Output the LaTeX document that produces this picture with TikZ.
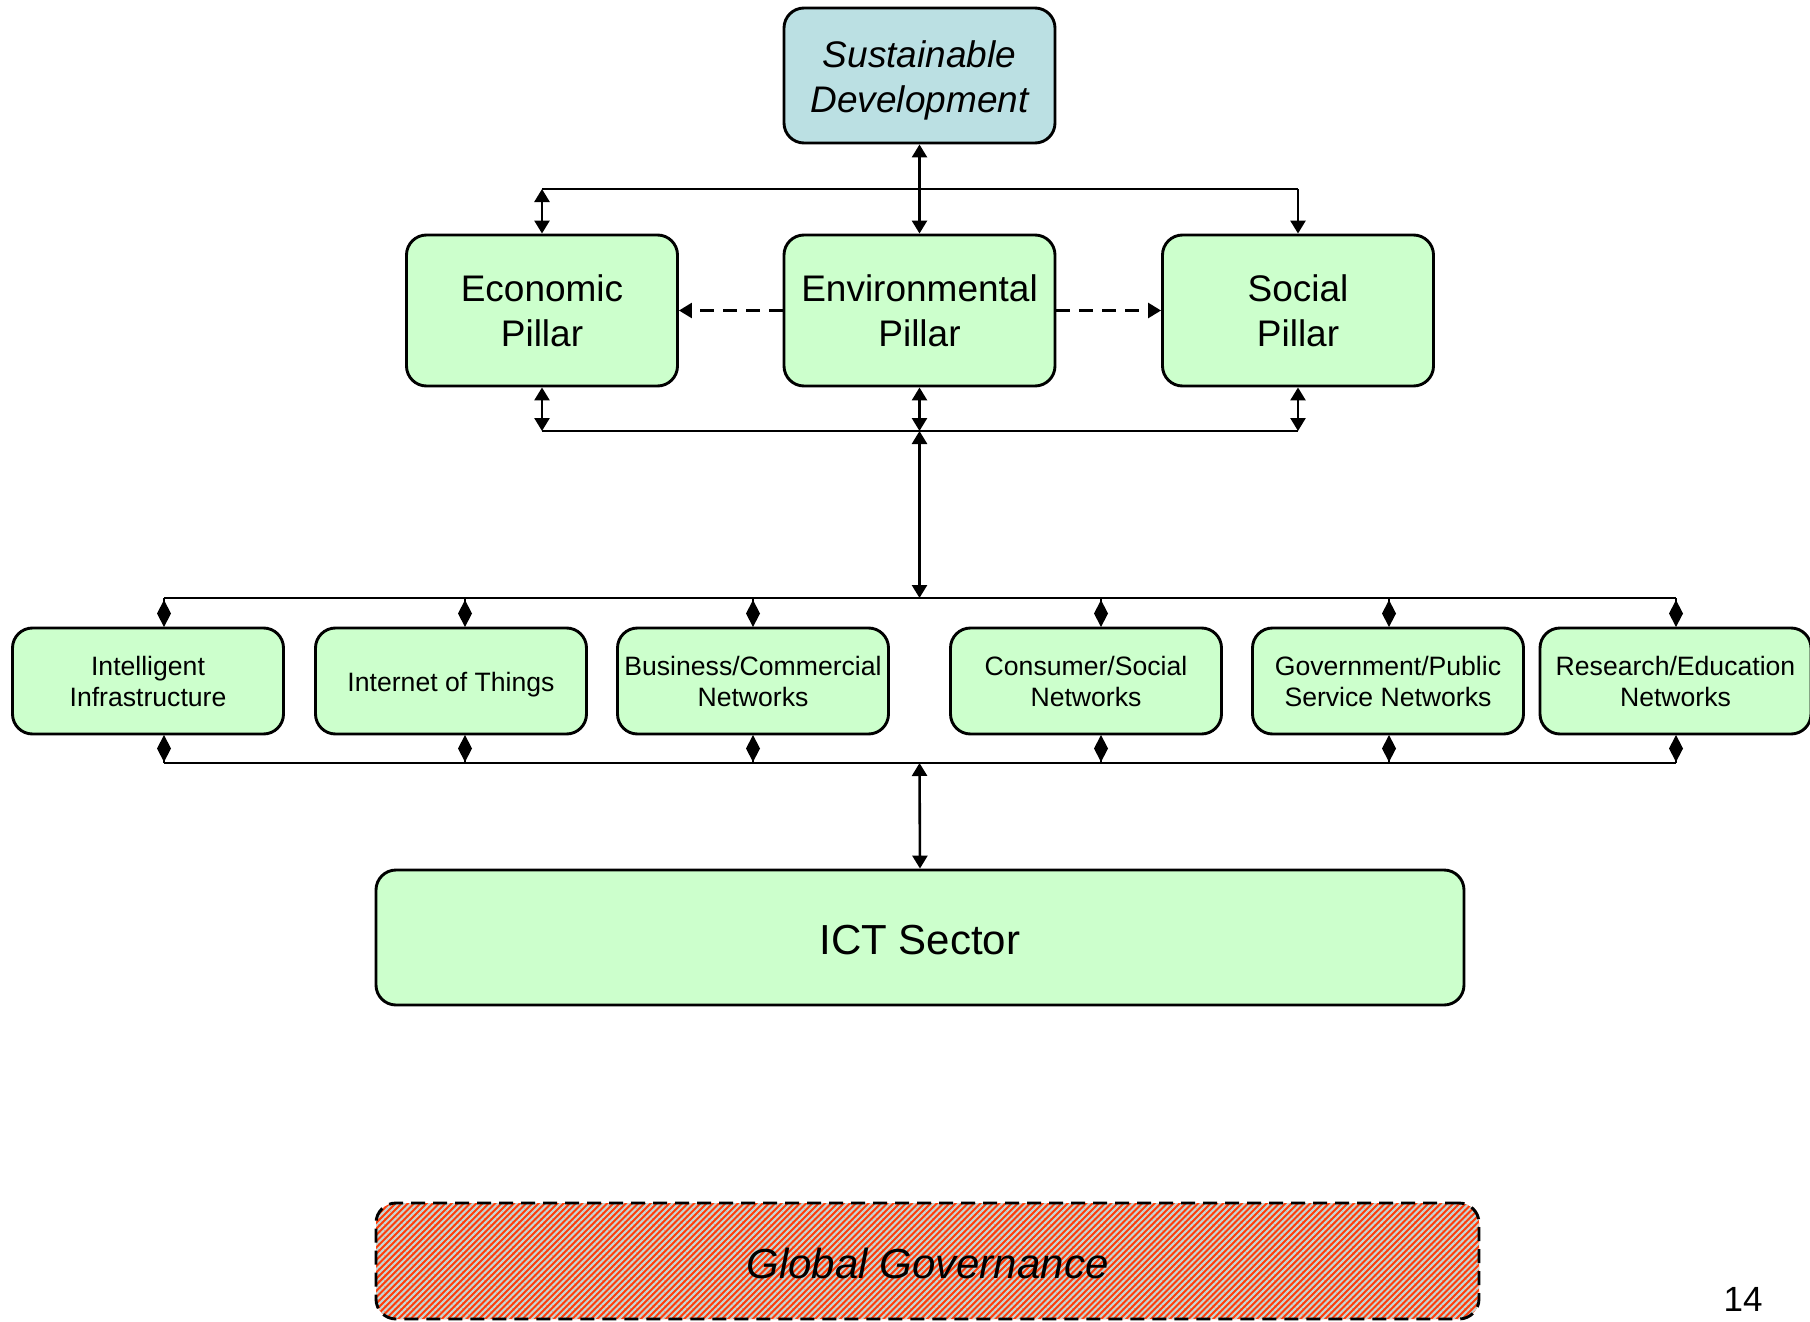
\documentclass[tikz,border=0pt]{standalone}
\usepackage{fontspec}
\setmainfont{Liberation Sans}
\usetikzlibrary{arrows.meta,patterns.meta}
\definecolor{boxgreen}{HTML}{CCFFCC}
\definecolor{boxblue}{HTML}{BBE0E3}
\definecolor{ggred}{HTML}{FF3D0A}
\definecolor{ggline}{HTML}{C6D6D4}
\newcommand{\lowerby}[2]{\raisebox{-#1}[\height][\depth]{#2}}
\begin{document}
\begin{tikzpicture}[x=0.5pt,y=-0.5pt,
  box/.style={draw=black, line width=1.45pt, rounded corners=10pt, fill=boxgreen, align=center, inner sep=0pt},
  pillar/.style={box, minimum width=135.5pt, minimum height=75.5pt, font=\fontsize{18.5}{22.5}\selectfont},
  netbox/.style={box, minimum width=135.5pt, minimum height=53pt, font=\fontsize{13.3}{15.5}\selectfont},
  conn/.style={line width=1.3pt},
  tri/.tip={Triangle[length=6.5pt,width=7.5pt]},
  dbl/.style={conn, tri-tri},
  sgl/.style={conn, -tri},
  dia/.style={conn, -{Diamond[length=13.5pt,width=7pt]}},
  dsh/.style={conn, dash pattern=on 7pt off 4.5pt, -tri},
]
\useasboundingbox (0,0) rectangle (1810,1322);

% top level
\node[box, fill=boxblue, minimum width=135.5pt, minimum height=67.5pt,
      font=\fontsize{18.5}{22.5}\selectfont\itshape] (sd) at (919.5,75.5)
      {\lowerby{2.7pt}{\begin{tabular}{@{}c@{}}Sustainable\\Development\end{tabular}}};
\node[pillar] (eco) at (542,310.5) {Economic\\Pillar};
\node[pillar] (env) at (919.5,310.5) {Environmental\\Pillar};
\node[pillar] (soc) at (1298,310.5) {Social\\Pillar};

% bus coordinates
\coordinate (tbL) at (542,189);
\coordinate (tbR) at (1298,189);
\coordinate (bbL) at (542,431);
\coordinate (bbM) at (919.5,431);
\coordinate (bbR) at (1298,431);

\draw[conn] (tbL) -- (tbR);
\draw[conn] (bbL) -- (bbR);
\draw[dbl] (tbL) -- (eco.north);
\draw[dbl] (sd.south) -- (env.north);
\draw[sgl] (tbR) -- (soc.north);
\draw[dbl] (eco.south) -- (bbL);
\draw[dbl] (env.south) -- (bbM);
\draw[dbl] (soc.south) -- (bbR);
\draw[dsh] (env.west) -- (eco.east);
\draw[dsh] (env.east) -- (soc.west);

% network level
\node[netbox] (n1) at (148,681) {Intelligent\\Infrastructure};
\node[netbox] (n2) at (451,681) {\lowerby{1.75pt}{Internet of Things}};
\node[netbox] (n3) at (753,681) {Business/Commercial\\Networks};
\node[netbox] (n4) at (1086,681) {Consumer/Social\\Networks};
\node[netbox] (n5) at (1388,681) {Government/Public\\Service Networks};
\node[netbox] (n6) at (1675.5,681) {Research/Education\\Networks};

\coordinate (ubM) at (919.5,598);
\coordinate (lbM) at (919.5,763);
\draw[dbl] (bbM) -- (ubM);
\draw[conn] (164,598) -- (1676,598);
\draw[conn] (164,763) -- (1676,763);

\foreach \n/\x in {n1/164,n2/465,n3/753,n4/1101,n5/1389,n6/1676}{
  \coordinate (\n u) at (\x,598);
  \coordinate (\n d) at (\x,763);
  \draw[dia] (\n u) -- (\x,627);
  \draw[dia] (\n d) -- (\x,735);
}

% ICT sector
\node[box, minimum width=544pt, minimum height=67.5pt, font=\fontsize{21}{25}\selectfont] (ict) at (920,937.5) {\lowerby{1.15pt}{ICT Sector}};
\draw[dbl] (lbM) -- (ict.north);

% global governance
\node[draw=black, line width=1.45pt, dash pattern=on 7pt off 4pt, rounded corners=10pt,
      preaction={fill=ggred},
      pattern={Lines[angle=45,distance=2.2pt,line width=1.05pt]}, pattern color=ggline,
      minimum width=551.5pt, minimum height=58pt, inner sep=0pt,
      font=\fontsize{21}{25}\selectfont\itshape] (gg) at (927.5,1261) {\lowerby{1.15pt}{Global Governance}};

\node[font=\fontsize{17.5}{20}\selectfont] (pg) at (1743,1299) {14};
\end{tikzpicture}
\end{document}
